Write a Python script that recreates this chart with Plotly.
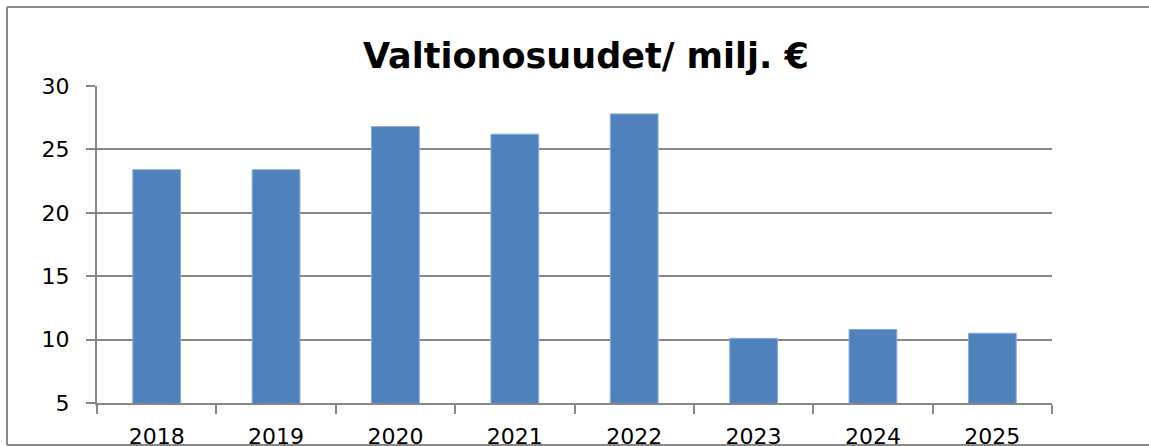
import plotly.graph_objects as go

# data
years = ["2018", "2019", "2020", "2021", "2022", "2023", "2024", "2025"]
valtionosuudet = [23.4, 23.4, 26.8, 26.2, 27.8, 10.1, 10.8, 10.5]
y_ticks = [5, 10, 15, 20, 25, 30]

W, H = 1149, 446
L, R, T, B = 97, 97, 86, 43
pw, ph = W - L - R, H - T - B

def px_x(x):
    # window pixel -> paper fraction
    return (x - L) / pw

def px_y(y):
    return (H - B - y) / ph

fig = go.Figure()

fig.add_trace(go.Bar(
    x=years,
    y=valtionosuudet,
    marker=dict(color="#4F81BD", line=dict(color="#8AAAD6", width=1)),
    width=0.4,
    hoverinfo="x+y",
))

# outer chart frame (left, top, bottom; the right side runs off the picture)
frame = dict(color="#898989", width=2)
for x0, y0, x1, y1 in [(7, 7, 7, 445), (7, 7, 1160, 7), (7, 445, 1160, 445)]:
    fig.add_shape(type="line", xref="paper", yref="paper",
                  x0=px_x(x0), y0=px_y(y0), x1=px_x(x1), y1=px_y(y1),
                  line=frame, layer="above")

grid = "#878787"
fig.update_layout(
    width=W, height=H,
    paper_bgcolor="white",
    plot_bgcolor="white",
    margin=dict(l=L, r=R, t=T, b=B, autoexpand=False),
    showlegend=False,
    font=dict(family="DejaVu Sans", color="#000000", size=22),
    title=dict(
        text="<b>Valtionosuudet/ milj. €</b>",
        font=dict(family="DejaVu Sans", size=35, color="#000000"),
        x=px_x(584), xanchor="center",
        y=1 - 56 / H, yanchor="middle",
    ),
    xaxis=dict(
        type="category",
        showline=True, linecolor=grid, linewidth=2,
        ticks="outside", tickson="boundaries", ticklen=9,
        tickcolor=grid, tickwidth=2,
        showgrid=False,
        ticklabelstandoff=13,
        automargin=False,
        fixedrange=True,
    ),
    yaxis=dict(
        range=[5, 30],
        tickvals=y_ticks,
        showline=True, linecolor=grid, linewidth=2,
        ticks="outside", ticklen=9, tickcolor=grid, tickwidth=2,
        showgrid=True, gridcolor=grid, gridwidth=2,
        zeroline=False,
        ticklabelstandoff=12,
        automargin=False,
        fixedrange=True,
    ),
)

# drop the default page margin so the figure fills the window exactly
fig.write_html(
    "out.html",
    config={"displayModeBar": False},
    post_script="document.body.style.margin='0';document.body.style.overflow='hidden';",
)
